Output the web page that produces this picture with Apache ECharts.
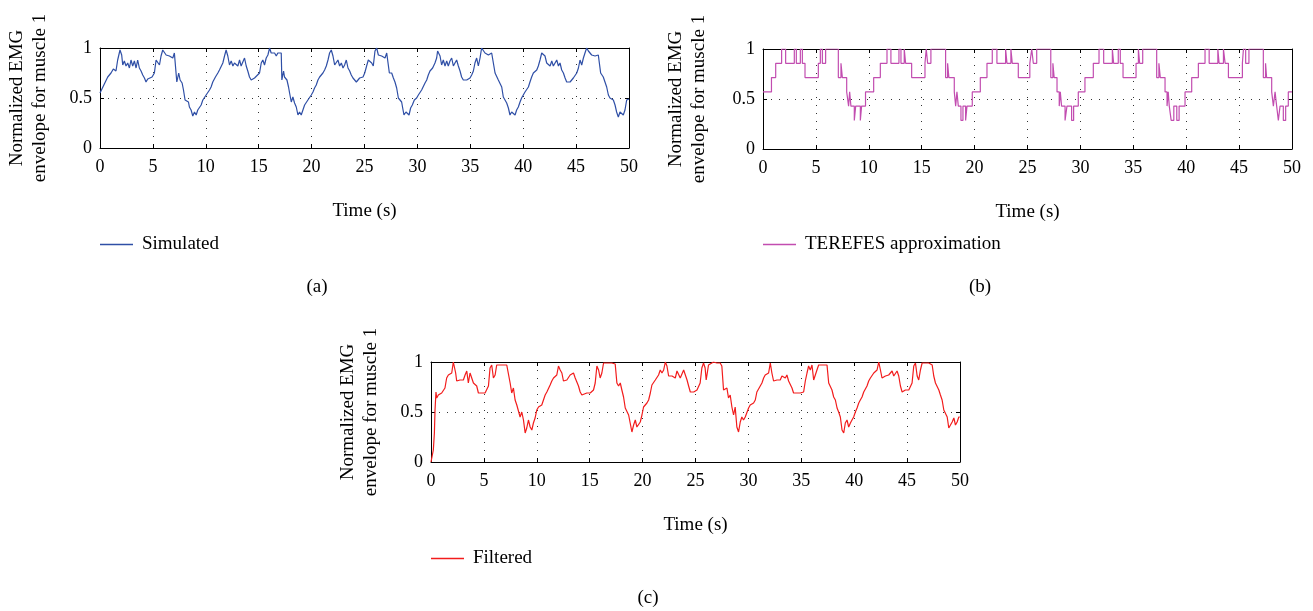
<!DOCTYPE html>
<html>
<head>
<meta charset="utf-8">
<script src="https://cdn.jsdelivr.net/npm/echarts@6/dist/echarts.min.js"></script>
<style>
  html, body { margin: 0; padding: 0; background: #fff; }
  #chart { width: 1313px; height: 611px; }
</style>
</head>
<body>
<div id="chart"></div>
<script>
// ---- data: [time (s), normalized envelope] ----
const simulated = [[0,0.55],[0.73,0.71],[1.04,0.75],[1.26,0.79],[1.51,0.77],[1.67,0.88],[1.89,0.98],[2.05,0.93],[2.15,0.83],[2.30,0.87],[2.46,0.82],[2.62,0.85],[2.78,0.80],[2.93,0.88],[3.09,0.82],[3.25,0.87],[3.41,0.80],[3.56,0.88],[3.72,0.80],[3.88,0.77],[4.04,0.73],[4.20,0.70],[4.35,0.66],[4.51,0.69],[4.67,0.68],[4.92,0.71],[5.14,0.75],[5.30,0.88],[5.46,0.90],[5.62,0.83],[5.77,0.92],[5.93,0.98],[6.09,1.00],[6.25,0.93],[6.40,0.95],[6.56,0.92],[6.72,0.93],[6.88,0.90],[7.03,0.95],[7.19,0.95],[7.26,0.66],[7.44,0.75],[7.57,0.68],[7.76,0.65],[7.89,0.58],[8.04,0.48],[8.20,0.50],[8.36,0.46],[8.45,0.41],[8.61,0.38],[8.77,0.32],[8.93,0.36],[9.09,0.33],[9.24,0.38],[9.40,0.36],[9.56,0.43],[9.72,0.48],[9.87,0.48],[10.03,0.53],[10.35,0.58],[10.50,0.61],[10.66,0.66],[10.91,0.71],[11.14,0.75],[11.29,0.78],[11.61,0.85],[11.77,0.92],[11.92,0.98],[12.08,0.92],[12.24,0.83],[12.40,0.87],[12.56,0.82],[12.71,0.85],[12.87,0.87],[13.03,0.82],[13.19,0.88],[13.34,0.82],[13.50,0.83],[13.66,0.90],[13.82,0.82],[13.97,0.77],[14.13,0.71],[14.29,0.68],[14.45,0.66],[14.61,0.70],[14.76,0.71],[15.08,0.75],[15.24,0.85],[15.39,0.88],[15.55,0.83],[15.71,0.90],[15.87,0.93],[16.03,1.00],[16.18,0.95],[16.34,0.93],[16.50,0.95],[16.66,0.92],[16.81,0.95],[16.97,0.93],[17.13,0.95],[17.19,0.68],[17.35,0.77],[17.44,0.71],[17.67,0.68],[17.82,0.61],[17.92,0.55],[18.08,0.46],[18.23,0.51],[18.39,0.45],[18.55,0.41],[18.71,0.33],[18.86,0.36],[19.02,0.33],[19.18,0.38],[19.34,0.43],[19.50,0.45],[19.65,0.48],[19.81,0.50],[19.97,0.53],[20.13,0.56],[20.28,0.60],[20.44,0.63],[20.60,0.68],[20.76,0.71],[21.07,0.75],[21.23,0.78],[21.39,0.82],[21.55,0.88],[21.70,0.95],[21.86,0.98],[22.02,0.92],[22.18,0.83],[22.33,0.85],[22.49,0.88],[22.65,0.82],[22.81,0.85],[22.97,0.80],[23.12,0.83],[23.28,0.88],[23.44,0.80],[23.60,0.77],[23.75,0.73],[23.91,0.70],[24.07,0.68],[24.23,0.66],[24.38,0.68],[24.54,0.70],[24.86,0.71],[25.02,0.75],[25.20,0.82],[25.36,0.88],[25.52,0.87],[25.68,0.85],[25.83,0.82],[25.99,0.97],[26.15,1.00],[26.31,0.93],[26.47,0.93],[26.62,0.92],[26.78,0.93],[26.94,0.90],[27.10,0.95],[27.25,0.95],[27.35,0.75],[27.57,0.75],[27.73,0.70],[27.88,0.66],[28.04,0.60],[28.20,0.50],[28.36,0.48],[28.51,0.46],[28.61,0.40],[28.73,0.33],[28.92,0.36],[29.05,0.35],[29.21,0.33],[29.36,0.40],[29.52,0.43],[29.71,0.48],[29.93,0.50],[30.09,0.53],[30.25,0.55],[30.40,0.58],[30.56,0.60],[30.72,0.65],[30.88,0.68],[31.03,0.73],[31.19,0.77],[31.35,0.77],[31.44,0.80],[31.57,0.80],[31.66,0.85],[31.82,0.90],[31.91,0.97],[32.04,0.98],[32.14,0.92],[32.29,0.83],[32.45,0.88],[32.61,0.82],[32.77,0.87],[32.92,0.82],[33.08,0.87],[33.24,0.90],[33.40,0.82],[33.55,0.85],[33.71,0.88],[33.87,0.82],[34.03,0.77],[34.18,0.71],[34.34,0.68],[34.50,0.66],[34.66,0.68],[34.82,0.70],[34.97,0.70],[35.13,0.73],[35.29,0.77],[35.44,0.85],[35.60,0.90],[35.76,0.82],[35.92,0.90],[36.07,1.00],[36.23,0.98],[36.39,0.95],[36.55,0.93],[36.71,0.93],[36.86,0.92],[37.02,0.95],[37.18,0.95],[37.34,0.75],[37.49,0.75],[37.65,0.68],[37.81,0.66],[37.97,0.61],[38.12,0.51],[38.28,0.48],[38.44,0.45],[38.60,0.40],[38.75,0.33],[38.91,0.36],[39.07,0.35],[39.23,0.33],[39.38,0.38],[39.54,0.41],[39.70,0.46],[39.85,0.50],[40.01,0.53],[40.17,0.56],[40.33,0.58],[40.49,0.61],[40.64,0.66],[40.80,0.71],[40.96,0.75],[41.12,0.77],[41.28,0.78],[41.43,0.82],[41.59,0.88],[41.75,0.95],[41.91,0.97],[42.06,0.92],[42.22,0.85],[42.38,0.87],[42.54,0.82],[42.70,0.87],[42.85,0.82],[43.01,0.85],[43.17,0.88],[43.33,0.82],[43.48,0.85],[43.64,0.78],[43.80,0.75],[43.96,0.70],[44.11,0.66],[44.27,0.68],[44.43,0.66],[44.59,0.68],[44.74,0.70],[44.90,0.71],[45.06,0.75],[45.22,0.80],[45.37,0.88],[45.53,0.83],[45.69,0.90],[45.84,0.95],[46.00,1.00],[46.16,0.97],[46.32,0.95],[46.47,0.93],[46.63,0.95],[46.79,0.92],[46.95,0.93],[47.10,0.93],[47.26,0.92],[47.32,0.75],[47.42,0.75],[47.57,0.71],[47.73,0.66],[47.89,0.61],[48.05,0.53],[48.20,0.50],[48.36,0.51],[48.52,0.48],[48.68,0.43],[48.83,0.36],[48.99,0.31],[49.15,0.36],[49.31,0.35],[49.46,0.33],[49.62,0.38],[49.78,0.48],[50.00,0.49]];

// TEREFES approximation: [time where level starts, level]
const terefes = [[0,0.571],[0.80,0.714],[1.20,0.857],[1.76,1],[2.14,0.857],[2.96,1],[3.15,0.857],[3.53,1],[3.72,0.857],[3.97,0.714],[5.23,0.857],[5.42,1],[5.61,0.857],[5.92,1],[7.12,0.714],[7.37,0.857],[7.50,0.714],[7.91,0.571],[8.09,0.429],[8.19,0.571],[8.31,0.429],[8.63,0.286],[8.76,0.429],[9.20,0.286],[9.32,0.429],[9.69,0.571],[10.46,0.714],[11.09,0.857],[11.72,1],[12.09,0.857],[12.85,1],[13.04,0.857],[13.35,1],[13.48,0.857],[14.05,0.714],[15.31,0.857],[15.43,1],[15.56,0.857],[15.87,1],[17.26,0.714],[17.45,0.857],[17.57,0.714],[18.08,0.571],[18.21,0.429],[18.33,0.571],[18.46,0.429],[18.71,0.286],[18.90,0.429],[19.15,0.286],[19.28,0.429],[19.78,0.571],[20.54,0.714],[21.17,0.857],[21.67,1],[22.11,0.857],[22.93,1],[23.06,0.857],[23.43,1],[23.56,0.857],[24.13,0.714],[25.22,0.857],[25.40,1],[25.55,0.857],[25.87,1],[27.20,0.714],[27.40,0.857],[27.52,0.714],[27.79,0.571],[28.00,0.429],[28.10,0.571],[28.22,0.429],[28.55,0.286],[28.73,0.429],[29.17,0.286],[29.36,0.429],[29.80,0.571],[30.43,0.714],[31.22,0.857],[31.76,1],[32.20,0.857],[33.02,1],[33.14,0.857],[33.58,1],[33.77,0.857],[34.03,0.714],[35.26,0.857],[35.48,1],[35.60,0.857],[35.89,1],[37.21,0.714],[37.42,0.857],[37.55,0.714],[38.00,0.571],[38.19,0.429],[38.30,0.571],[38.40,0.429],[38.58,0.286],[38.83,0.429],[39.11,0.286],[39.33,0.429],[39.89,0.571],[40.52,0.714],[41.15,0.857],[41.78,1],[42.17,0.857],[42.99,1],[43.11,0.857],[43.52,1],[43.68,0.857],[43.99,0.714],[45.31,0.857],[45.41,1],[45.62,0.857],[45.93,1],[47.29,0.714],[47.50,0.857],[47.60,0.714],[48.08,0.571],[48.24,0.429],[48.40,0.571],[48.55,0.429],[48.71,0.286],[48.87,0.429],[49.18,0.286],[49.40,0.429],[49.65,0.571],[50,0.571]];

const filtered = [[0,0.00],[0.13,0.02],[0.22,0.12],[0.32,0.29],[0.38,0.52],[0.47,0.70],[0.54,0.64],[0.69,0.67],[0.85,0.69],[1.01,0.69],[1.17,0.70],[1.32,0.74],[1.48,0.84],[1.64,0.87],[1.80,0.86],[1.96,0.89],[2.11,1.00],[2.21,0.99],[2.33,0.89],[2.43,0.81],[2.59,0.81],[2.74,0.82],[2.90,0.81],[3.06,0.82],[3.22,0.87],[3.38,0.91],[3.53,0.79],[3.69,0.89],[3.85,0.87],[4.01,0.79],[4.16,0.77],[4.32,0.76],[4.48,0.69],[4.64,0.70],[4.79,0.69],[4.95,0.70],[5.11,0.69],[5.27,0.70],[5.43,0.76],[5.58,0.94],[5.74,0.97],[5.90,0.84],[6.06,0.87],[6.21,0.97],[6.37,0.99],[6.53,0.97],[6.85,0.97],[7.16,0.97],[7.32,0.96],[7.48,0.79],[7.63,0.69],[7.79,0.74],[7.95,0.62],[8.11,0.57],[8.26,0.57],[8.42,0.45],[8.58,0.50],[8.74,0.42],[8.90,0.29],[9.05,0.34],[9.21,0.42],[9.37,0.35],[9.53,0.32],[9.68,0.39],[9.84,0.44],[10.00,0.52],[10.16,0.55],[10.32,0.54],[10.47,0.57],[10.63,0.59],[10.79,0.67],[10.95,0.70],[11.10,0.69],[11.26,0.77],[11.42,0.81],[11.58,0.84],[11.74,0.82],[11.89,0.87],[12.05,0.96],[12.21,0.92],[12.37,0.89],[12.52,0.81],[12.68,0.81],[12.84,0.82],[13.00,0.81],[13.15,0.87],[13.31,0.86],[13.47,0.89],[13.63,0.84],[13.79,0.82],[13.94,0.76],[14.10,0.70],[14.26,0.67],[14.42,0.69],[14.73,0.69],[15.05,0.69],[15.21,0.69],[15.36,0.72],[15.52,0.79],[15.68,0.96],[15.84,0.92],[15.99,0.84],[16.15,0.89],[16.31,0.99],[16.47,1.00],[16.78,0.99],[17.10,0.99],[17.41,0.98],[17.57,0.79],[17.73,0.76],[17.89,0.79],[18.04,0.72],[18.20,0.65],[18.36,0.54],[18.52,0.55],[18.68,0.47],[18.83,0.45],[18.99,0.30],[19.15,0.37],[19.31,0.42],[19.46,0.35],[19.62,0.37],[19.78,0.40],[19.94,0.47],[20.09,0.55],[20.25,0.57],[20.41,0.59],[20.57,0.62],[20.73,0.69],[20.88,0.77],[21.04,0.79],[21.20,0.82],[21.36,0.82],[21.51,0.87],[21.67,0.92],[21.83,0.89],[21.99,0.92],[22.15,1.00],[22.30,0.96],[22.46,0.86],[22.62,0.84],[22.78,0.86],[22.93,0.87],[23.09,0.84],[23.25,0.91],[23.41,0.92],[23.56,0.84],[23.72,0.86],[23.88,0.92],[24.04,0.87],[24.20,0.82],[24.35,0.76],[24.51,0.70],[24.83,0.70],[25.14,0.72],[25.44,0.79],[25.60,0.94],[25.76,0.99],[25.91,0.94],[26.01,0.82],[26.07,0.86],[26.23,0.97],[26.39,0.99],[26.70,1.00],[27.02,0.99],[27.33,0.99],[27.49,0.96],[27.65,0.72],[27.81,0.70],[27.97,0.74],[28.12,0.64],[28.28,0.67],[28.44,0.55],[28.60,0.47],[28.75,0.55],[28.91,0.35],[29.07,0.30],[29.23,0.40],[29.38,0.45],[29.54,0.42],[29.70,0.45],[29.86,0.47],[30.02,0.54],[30.17,0.57],[30.33,0.59],[30.49,0.59],[30.65,0.62],[30.80,0.70],[30.96,0.72],[31.12,0.76],[31.28,0.79],[31.44,0.84],[31.59,0.87],[31.75,0.86],[31.91,0.89],[32.07,0.99],[32.22,0.89],[32.38,0.81],[32.54,0.81],[32.70,0.82],[32.85,0.81],[33.01,0.82],[33.17,0.86],[33.33,0.87],[33.49,0.84],[33.64,0.87],[33.80,0.81],[33.96,0.81],[34.12,0.74],[34.27,0.69],[34.59,0.69],[34.91,0.69],[35.06,0.69],[35.22,0.70],[35.38,0.81],[35.54,0.89],[35.69,0.96],[35.85,0.92],[36.01,0.97],[36.17,0.82],[36.32,0.84],[36.48,0.92],[36.64,0.97],[36.80,0.99],[37.11,0.97],[37.43,0.97],[37.59,0.79],[37.74,0.77],[37.90,0.72],[38.06,0.65],[38.22,0.62],[38.38,0.54],[38.53,0.50],[38.69,0.45],[38.85,0.32],[39.01,0.29],[39.16,0.39],[39.32,0.42],[39.48,0.35],[39.64,0.39],[39.79,0.42],[39.95,0.45],[40.11,0.50],[40.27,0.54],[40.43,0.59],[40.58,0.62],[40.74,0.65],[40.90,0.70],[41.06,0.72],[41.21,0.76],[41.37,0.81],[41.53,0.84],[41.69,0.86],[41.85,0.89],[42.00,0.87],[42.16,0.92],[42.32,1.00],[42.48,0.92],[42.63,0.84],[42.79,0.84],[42.95,0.86],[43.11,0.84],[43.26,0.87],[43.42,0.89],[43.58,0.91],[43.74,0.86],[43.90,0.84],[44.05,0.91],[44.21,0.86],[44.37,0.76],[44.53,0.70],[44.84,0.72],[45.16,0.72],[45.32,0.74],[45.47,0.79],[45.63,0.96],[45.79,0.99],[45.95,0.86],[46.10,0.82],[46.26,0.92],[46.42,0.99],[46.74,0.99],[47.05,0.99],[47.37,0.97],[47.52,0.86],[47.68,0.79],[47.84,0.77],[48.00,0.72],[48.15,0.67],[48.31,0.62],[48.47,0.52],[48.63,0.54],[48.79,0.45],[48.94,0.34],[49.10,0.32],[49.26,0.40],[49.42,0.44],[49.57,0.37],[49.73,0.40],[49.89,0.45],[49.98,0.45]];

const xTicks = [0, 50, 5];      // min, max, step
const yTicks = [0, 1, 0.5];
const seriesNames = ['Simulated', 'TEREFES approximation', 'Filtered'];
const seriesColors = ['#2f4fa6', '#c24db0', '#f21c1c'];
const captions = ['(a)', '(b)', '(c)'];

// ---- layout ----
const FONT = 'Liberation Serif';
const panels = [
  { left: 100, top: 48, nameGap: 48, legendTop: 235, caption: [317, 287] },
  { left: 763, top: 49, nameGap: 52, legendTop: 235, caption: [980, 287] },
  { left: 431, top: 362, nameGap: 48, legendTop: 549, caption: [648, 598] }
];
const W = 529, H = 100;

const grids = [], xAxes = [], yAxes = [], legends = [], graphics = [];
const dotted = { type: [1, 7], color: '#333', width: 1 };
const boxLine = { show: true, onZero: false, lineStyle: { color: '#000', width: 1 } };
const tick = { show: true, inside: true, length: 4, lineStyle: { color: '#000' } };

panels.forEach((p, i) => {
  grids.push({ left: p.left, top: p.top, width: W, height: H });
  xAxes.push({
    gridIndex: i, type: 'value', position: 'bottom',
    min: xTicks[0], max: xTicks[1], interval: xTicks[2],
    axisLine: boxLine, axisTick: tick,
    axisLabel: { fontFamily: FONT, fontSize: 18, color: '#000', margin: 10 },
    splitLine: { show: true, lineStyle: dotted },
    name: 'Time (s)', nameLocation: 'middle', nameGap: 54,
    nameTextStyle: { fontFamily: FONT, fontSize: 19, color: '#000' }
  });
  xAxes.push({
    gridIndex: i, type: 'value', position: 'top',
    min: xTicks[0], max: xTicks[1], interval: xTicks[2],
    axisLine: boxLine, axisTick: tick, axisLabel: { show: false }, splitLine: { show: false }
  });
  yAxes.push({
    gridIndex: i, type: 'value', position: 'left',
    min: yTicks[0], max: yTicks[1], interval: yTicks[2],
    axisLine: boxLine, axisTick: tick,
    axisLabel: { fontFamily: FONT, fontSize: 18, color: '#000', margin: 8 },
    splitLine: { show: true, lineStyle: dotted },
    name: 'Normalized EMG\nenvelope for muscle 1', nameLocation: 'middle', nameGap: p.nameGap,
    nameTextStyle: { fontFamily: FONT, fontSize: 19, color: '#000', lineHeight: 23 }
  });
  yAxes.push({
    gridIndex: i, type: 'value', position: 'right',
    min: yTicks[0], max: yTicks[1], interval: yTicks[2],
    axisLine: boxLine, axisTick: tick, axisLabel: { show: false }, splitLine: { show: false }
  });
  legends.push({
    data: [seriesNames[i]], left: p.left, top: p.legendTop, padding: 0,
    icon: 'rect', itemWidth: 33, itemHeight: 1.5,
    textStyle: { fontFamily: FONT, fontSize: 19, color: '#000', padding: [0, 0, 0, 4] }
  });
  graphics.push({
    type: 'text', x: p.caption[0], y: p.caption[1],
    style: { text: captions[i], font: '19px "Liberation Serif"', fill: '#000', align: 'center', verticalAlign: 'middle' }
  });
});

const lineSeries = (i, data, extra) => Object.assign({
  name: seriesNames[i], type: 'line', data: data,
  xAxisIndex: i * 2, yAxisIndex: i * 2,
  showSymbol: false, symbol: 'none', animation: false,
  lineStyle: { color: seriesColors[i], width: 1.2 },
  itemStyle: { color: seriesColors[i] }
}, extra || {});

const chart = echarts.init(document.getElementById('chart'));
chart.setOption({
  backgroundColor: '#fff',
  animation: false,
  grid: grids,
  xAxis: xAxes,
  yAxis: yAxes,
  legend: legends,
  graphic: graphics,
  series: [
    lineSeries(0, simulated),
    lineSeries(1, terefes, { step: 'end' }),
    lineSeries(2, filtered)
  ]
});
</script>
</body>
</html>
